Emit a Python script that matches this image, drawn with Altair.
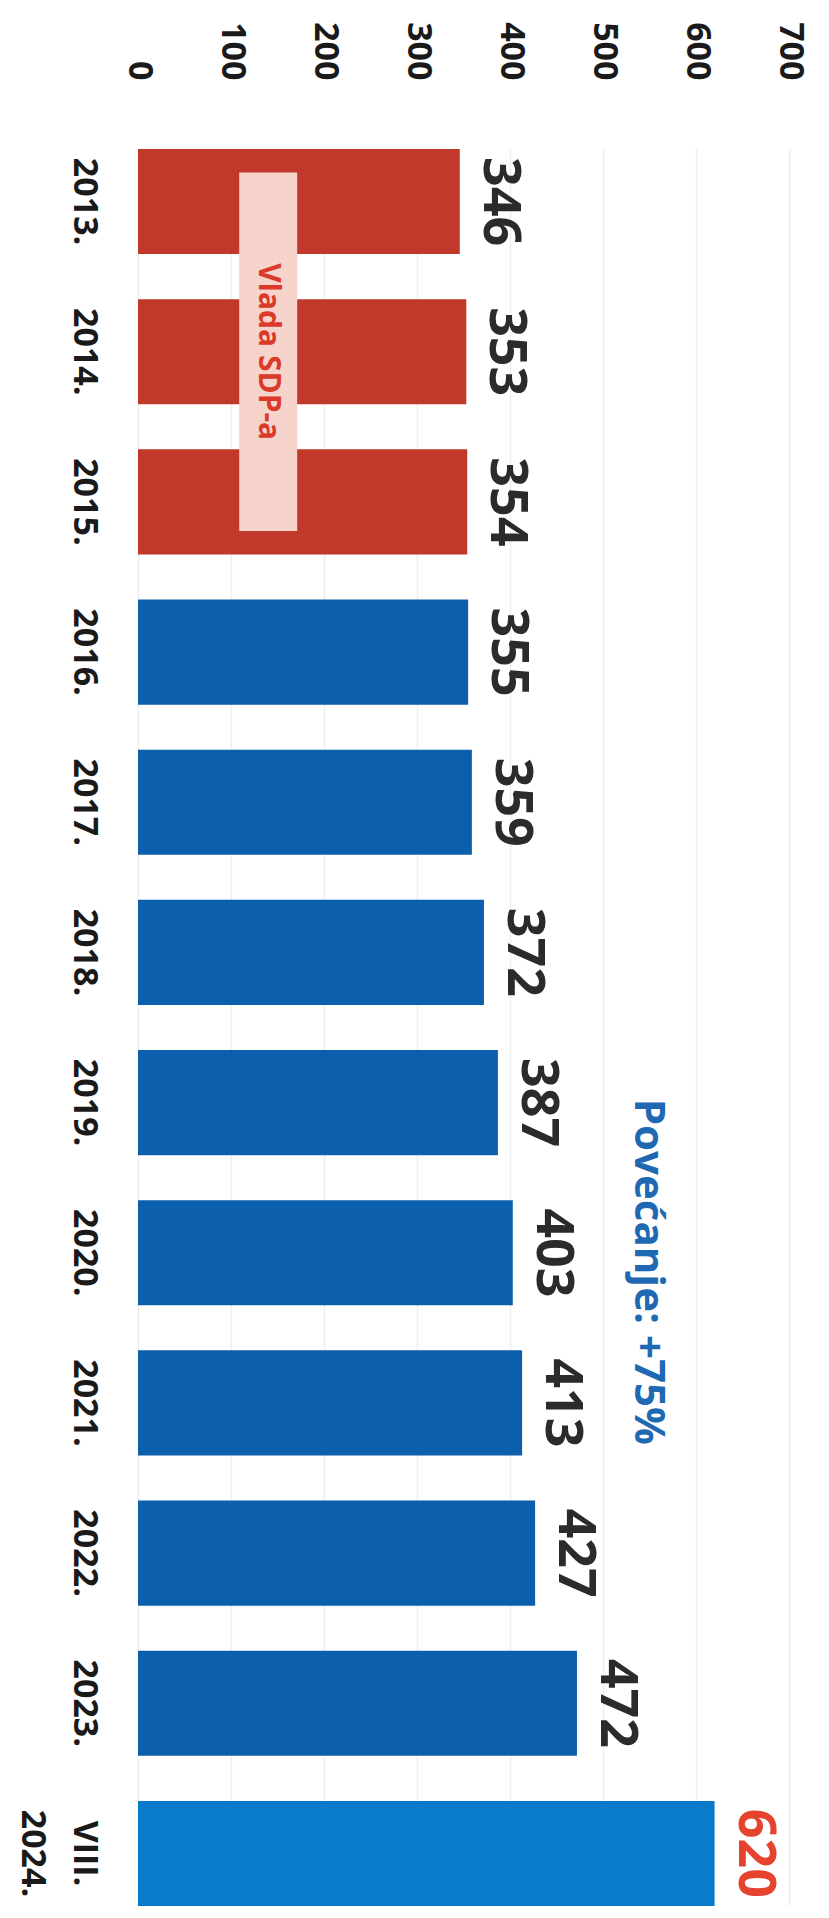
import altair as alt
import pandas as pd

# ---- data ----
years = ["2013.", "2014.", "2015.", "2016.", "2017.", "2018.", "2019.",
         "2020.", "2021.", "2022.", "2023.", "VIII. 2024."]
values = [346, 353, 354, 355, 359, 372, 387, 403, 413, 427, 472, 620]
groups = ["sdp", "sdp", "sdp", "hdz", "hdz", "hdz", "hdz", "hdz", "hdz", "hdz", "hdz", "now"]
tick_values = [0, 100, 200, 300, 400, 500, 600, 700]

box_label = "Vlada SDP-a"
box_from, box_mid, box_to = "2013.", "2014.", "2015."
growth_label = "Povećanje: +75%"

df = pd.DataFrame({"year": years, "value": values, "group": groups})

FONT = "Open Sans"
RED = "#c0392a"
BLUE = "#0b5fad"
LIGHT_BLUE = "#0a7bcb"

x_scale = alt.Scale(domain=[0, 700], nice=False, zero=True)
y_scale = alt.Scale(domain=years, paddingInner=0.3, paddingOuter=0)

x_axis = alt.Axis(
    orient="top", values=tick_values, labelAngle=90, labelAlign="right",
    labelBaseline="middle", labelPadding=69, ticks=False, domain=False,
    grid=True, gridColor="#eeeeee", gridWidth=1.5, labelFont=FONT,
    labelFontSize=34, labelFontWeight="bold", labelColor="#1a1a1a",
    labelFlush=False, labelOverlap=False, title=None,
)
y_axis = alt.Axis(
    orient="left", labelAngle=90, labelAlign="center", labelBaseline="top",
    labelPadding=38, ticks=False, domain=False, grid=False,
    labelExpr="split(datum.label, ' ')", labelLineHeight=52,
    labelFont=FONT, labelFontSize=34, labelFontWeight="bold",
    labelColor="#1a1a1a", labelOverlap=False, title=None,
)

base = alt.Chart(df)

bars = base.mark_bar().encode(
    x=alt.X("value:Q", scale=x_scale, axis=x_axis),
    y=alt.Y("year:N", scale=y_scale, sort=years, axis=y_axis),
    color=alt.Color("group:N",
                    scale=alt.Scale(domain=["sdp", "hdz", "now"],
                                    range=[RED, BLUE, LIGHT_BLUE]),
                    legend=None),
)

value_labels = base.mark_text(
    angle=90, align="center", baseline="alphabetic", dy=-24,
    font=FONT, fontSize=52, fontWeight="bold",
).encode(
    x=alt.X("value:Q"),
    y=alt.Y("year:N", sort=years),
    text=alt.Text("value:Q"),
    color=alt.condition(alt.datum.group == "now", alt.value("#e5432d"), alt.value("#2b2b2b")),
)

anno = alt.Chart(pd.DataFrame({"a": [0]}))

box = anno.mark_rule(strokeWidth=58, strokeCap="square", color="#f6d4cb").encode(
    x=alt.datum(140), y=alt.datum(box_from), y2=alt.datum(box_to)
)

box_text = anno.mark_text(
    text=box_label, angle=90, align="center", baseline="middle",
    font=FONT, fontSize=30, fontWeight="bold", color="#d93a2a",
).encode(x=alt.datum(140), y=alt.datum(box_mid))

growth_text = anno.mark_text(
    text=growth_label, angle=90, align="center", baseline="alphabetic", dx=19,
    font=FONT, fontSize=42, fontWeight="bold", color="#1f69b3",
).encode(x=alt.datum(534), y=alt.datum("2020."))

chart = alt.layer(bars, box, box_text, value_labels, growth_text).properties(
    width=651, height=1757,
    autosize=alt.AutoSizeParams(type="none"),
    padding={"left": 130, "top": 141, "right": 30, "bottom": 0},
    background="white",
).configure_view(stroke=None)

chart.save("out.html", embed_options={"renderer": "svg", "actions": False})
